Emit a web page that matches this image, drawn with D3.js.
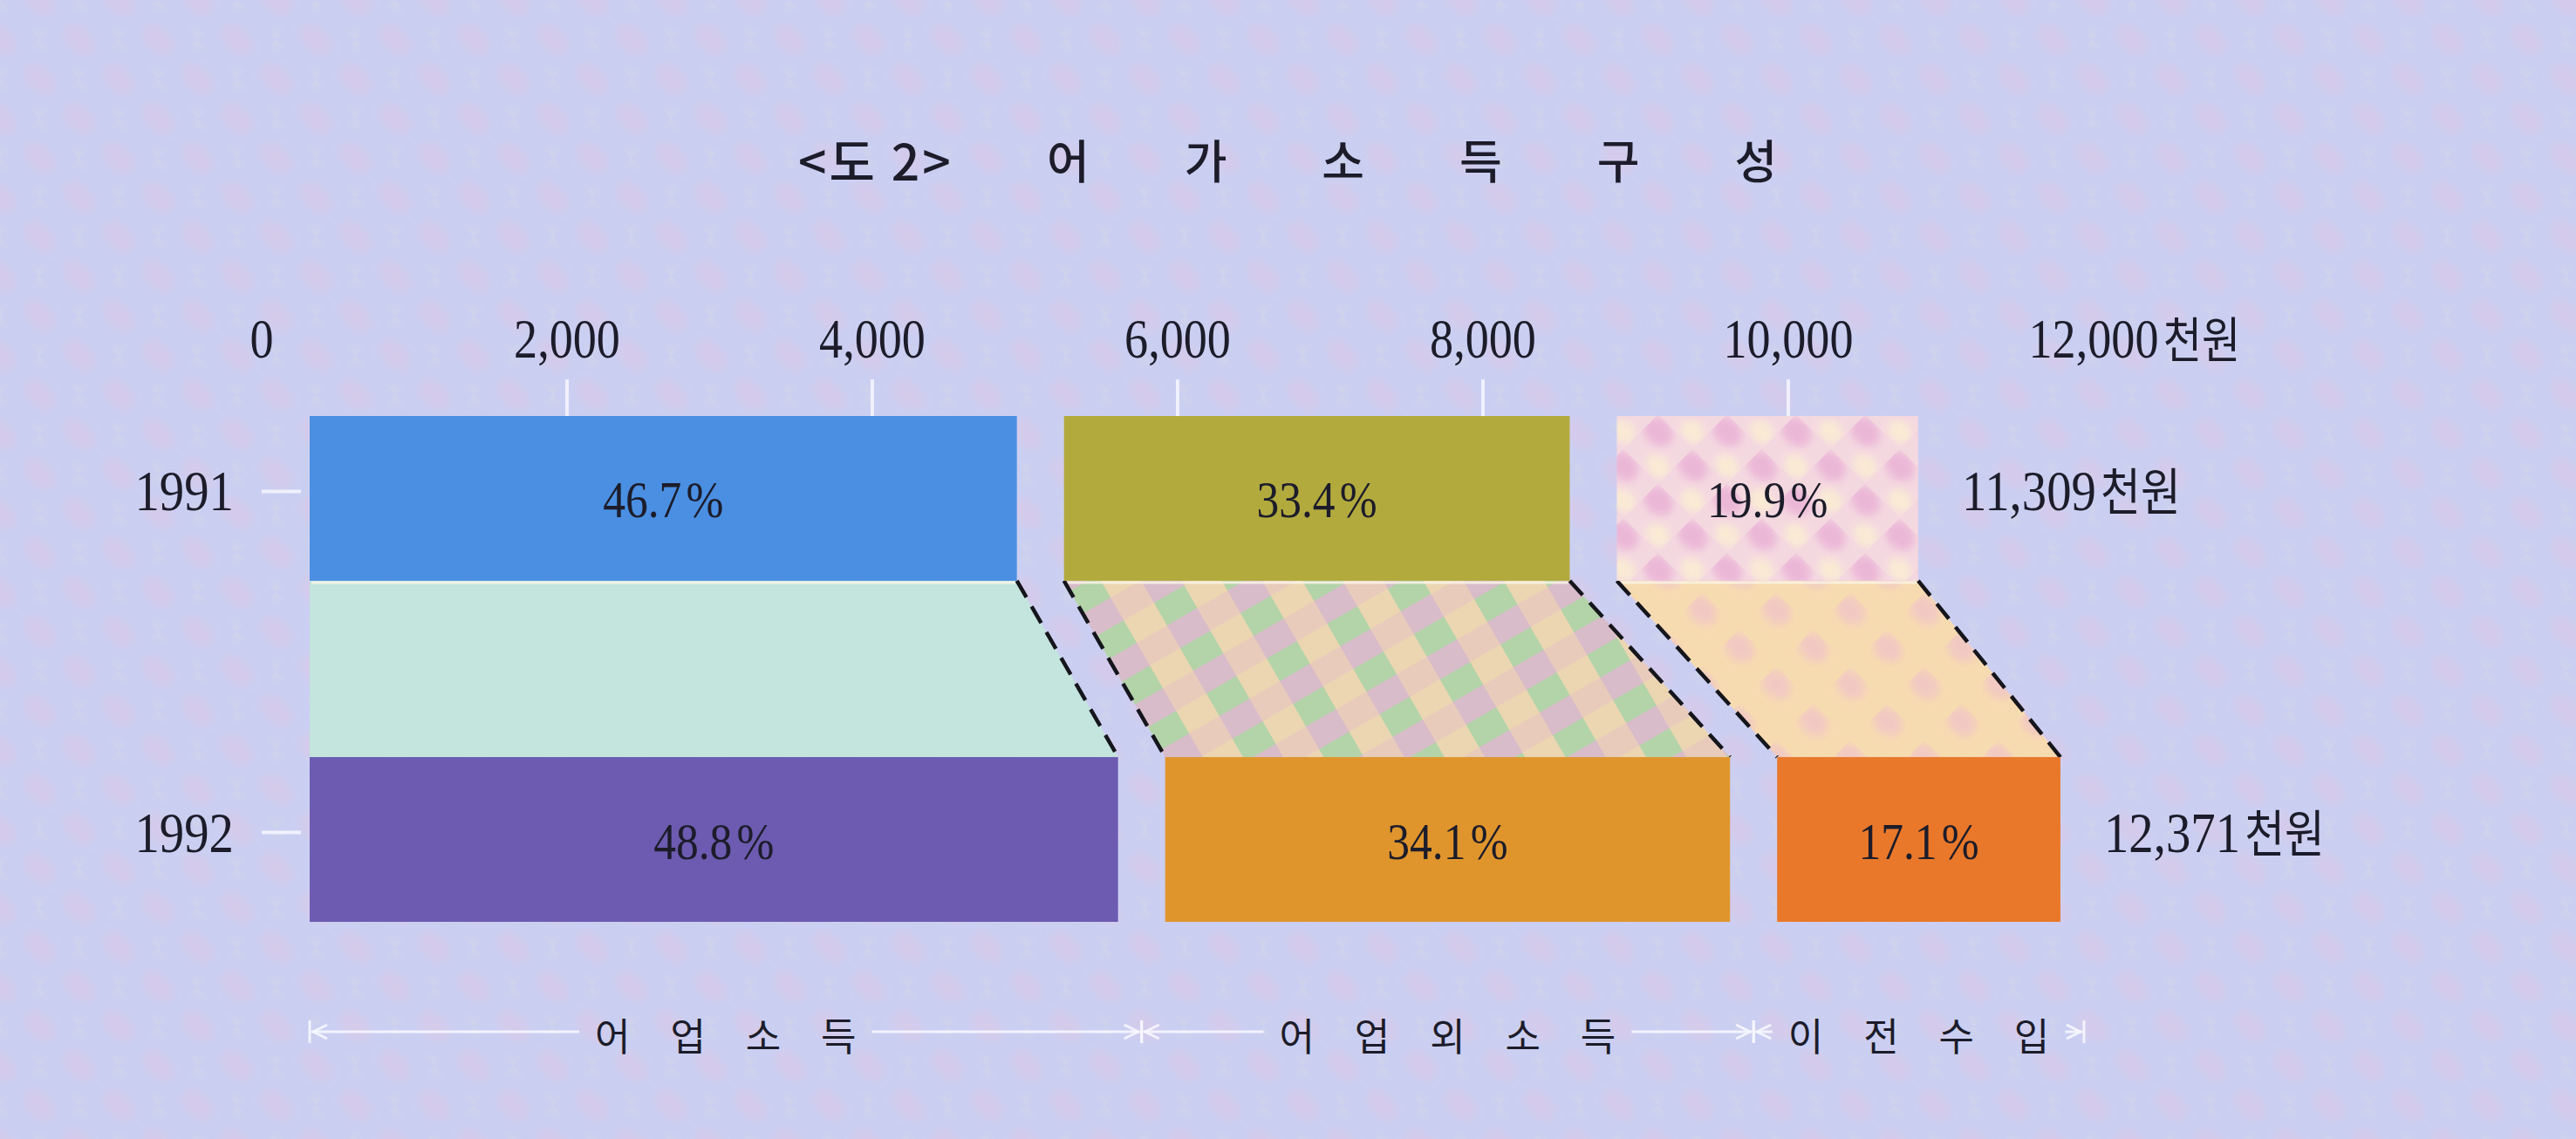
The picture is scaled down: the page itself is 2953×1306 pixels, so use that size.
<!DOCTYPE html>
<html>
<head>
<meta charset="utf-8">
<script src="https://cdn.jsdelivr.net/npm/d3@7"></script>
<style>
  html, body { margin: 0; padding: 0; background: #cdd1f3; overflow: hidden; }
  svg { display: block; }
</style>
</head>
<body>
<svg id="chart" width="2953" height="1306"></svg>
<script>
// ---------------- data ----------------
const years = ["1991", "1992"];
const totals = [11309, 12371];                       // 천원
const categories = ["어업소득", "어업외소득", "이전수입"];
const categoryLabels = ["어 업 소 득", "어 업 외 소 득", "이 전 수 입"];
const shares1991 = [46.7, 33.4, 19.9];               // %
const shares1992 = [48.8, 34.1, 17.1];               // %
const tickValues = [0, 2000, 4000, 6000, 8000, 10000, 12000];
const tickLabels = ["0", "2,000", "4,000", "6,000", "8,000", "10,000", "12,000"];
const axisUnit = "천원";
const totalLabels = ["11,309천원", "12,371천원"];
const titleHead = "<도 2>";
const titleWords = ["어", "가", "소", "득", "구", "성"];

// ---------------- style ----------------
const W = 2953, H = 1306;
const serif = "'Liberation Serif', 'Noto Sans CJK KR', serif";
const sans = "'Noto Sans CJK KR', 'Noto Sans', sans-serif";
const ink = "#1c1c2a";
const fill1991 = ["#4a8fe2", "#b3aa3e", "url(#pinkCheck)"];
const fill1992 = ["#6c5bb0", "#e0952c", "#e9782a"];
const bandFill = ["#c4e4de", "url(#plaid)", "url(#peach)"];
const segGap = 54;
const squeeze = 0.86;

const svg = d3.select("#chart");

// ---------------- patterns ----------------
const defs = svg.append("defs");
const blur = defs.append("filter").attr("id", "soft").attr("x", "-50%").attr("y", "-50%").attr("width", "200%").attr("height", "200%");
blur.append("feGaussianBlur").attr("stdDeviation", 5);

const bg = defs.append("pattern").attr("id", "bgPat").attr("patternUnits", "userSpaceOnUse")
  .attr("width", 64).attr("height", 64).attr("patternTransform", "rotate(45)");
bg.append("rect").attr("width", 64).attr("height", 64).attr("fill", "#cacff2");
bg.append("ellipse").attr("cx", 32).attr("cy", 32).attr("rx", 22).attr("ry", 14).attr("fill", "#dcc8e6").attr("opacity", 0.55).attr("filter", "url(#soft)");
bg.append("ellipse").attr("cx", 0).attr("cy", 0).attr("rx", 12).attr("ry", 9).attr("fill", "#d8d8de").attr("opacity", 0.4).attr("filter", "url(#soft)");
bg.append("ellipse").attr("cx", 64).attr("cy", 64).attr("rx", 12).attr("ry", 9).attr("fill", "#d8d8de").attr("opacity", 0.4).attr("filter", "url(#soft)");

const pk = defs.append("pattern").attr("id", "pinkCheck").attr("patternUnits", "userSpaceOnUse")
  .attr("width", 56).attr("height", 56).attr("patternTransform", "rotate(45)");
pk.append("rect").attr("width", 56).attr("height", 56).attr("fill", "#f4d8e0");
pk.append("ellipse").attr("cx", 14).attr("cy", 14).attr("rx", 19).attr("ry", 15).attr("fill", "#e8acd4").attr("opacity", 0.75).attr("filter", "url(#soft)");
pk.append("ellipse").attr("cx", 42).attr("cy", 42).attr("rx", 15).attr("ry", 12).attr("fill", "#fbeed2").attr("opacity", 0.85).attr("filter", "url(#soft)");

const pl = defs.append("pattern").attr("id", "plaid").attr("patternUnits", "userSpaceOnUse")
  .attr("width", 80).attr("height", 60).attr("patternTransform", "rotate(-30)");
pl.append("rect").attr("width", 80).attr("height", 60).attr("fill", "#ecd6b2");
pl.append("rect").attr("width", 40).attr("height", 30).attr("fill", "#b3d3a8");
pl.append("rect").attr("y", 30).attr("width", 40).attr("height", 30).attr("fill", "#d8bcca");
pl.append("rect").attr("x", 40).attr("y", 30).attr("width", 40).attr("height", 30).attr("fill", "#e8c6c0").attr("opacity", 0.7);

const pc = defs.append("pattern").attr("id", "peach").attr("patternUnits", "userSpaceOnUse")
  .attr("width", 60).attr("height", 60).attr("patternTransform", "rotate(45)");
pc.append("rect").attr("width", 60).attr("height", 60).attr("fill", "#f7dbb0");
pc.append("ellipse").attr("cx", 15).attr("cy", 15).attr("rx", 19).attr("ry", 15).attr("fill", "#efc0cc").attr("opacity", 0.65).attr("filter", "url(#soft)");

svg.append("rect").attr("width", W).attr("height", H).attr("fill", "url(#bgPat)");

// ---------------- scales ----------------
const xAxis = d3.scaleLinear().domain([0, 12000]).range([300, 2400]);
const xBar = d3.scaleLinear().domain([0, 12000]).range([355, 2197]);
const y = d3.scaleBand().domain(years).range([477, 1057]).paddingInner(0.517).paddingOuter(0);

function segments(yi) {
  const shares = yi === 0 ? shares1991 : shares1992;
  let cum = 0;
  return shares.map((s, ci) => {
    const v = totals[yi] * s / 100;
    const d = { year: years[yi], yi, ci, share: s, start: cum, end: cum + v };
    cum += v;
    d.x0 = xBar(d.start) + ci * segGap;
    d.x1 = xBar(d.end) + ci * segGap;
    return d;
  });
}
const segs = [segments(0), segments(1)];

// ---------------- title ----------------
const title = svg.append("text").attr("y", 182).attr("dominant-baseline", "central")
  .attr("font-family", sans).attr("font-size", 53).attr("font-weight", 500).attr("fill", ink);
title.append("tspan").attr("x", 915).attr("font-size", 57).attr("letter-spacing", 3).text(titleHead + " ");
title.append("tspan").attr("x", 1200).attr("word-spacing", 97).text(titleWords.join(" "));

// ---------------- top axis ----------------
const axisG = svg.append("g");
axisG.selectAll("line.tick").data(tickValues.filter(v => v > 0 && v < 12000)).join("line")
  .attr("x1", d => xAxis(d)).attr("x2", d => xAxis(d))
  .attr("y1", 435).attr("y2", y("1991"))
  .attr("stroke", "#f7f7ff").attr("stroke-width", 4).attr("opacity", 0.85);

tickValues.forEach((v, i) => {
  const g = axisG.append("g").attr("transform", `translate(${xAxis(v)},410) scale(${squeeze},1)`);
  const t = g.append("text").attr("font-family", serif).attr("font-size", 63).attr("fill", ink);
  const num = t.append("tspan").text(tickLabels[i]);
  if (i === tickValues.length - 1) t.append("tspan").attr("dx", 6).attr("font-size", 56).text(axisUnit);
  const len = num.node().getComputedTextLength();
  t.attr("x", -len / 2);
});

// ---------------- bands between years ----------------
const top0 = y("1991") + y.bandwidth();
const bot1 = y("1992");
const bandData = segs[0].map((a, ci) => ({ a, b: segs[1][ci], ci }));

svg.append("g").selectAll("path").data(bandData).join("path")
  .attr("d", d => `M${d.a.x0},${top0}L${d.a.x1},${top0}L${d.b.x1},${bot1}L${d.b.x0},${bot1}Z`)
  .attr("fill", d => bandFill[d.ci]);

svg.append("g").selectAll("line").data(bandData).join("line")
  .attr("x1", d => d.a.x0 + 2).attr("x2", d => d.a.x1 - 2)
  .attr("y1", top0 + 2).attr("y2", top0 + 2)
  .attr("stroke", "#fbf6e8").attr("stroke-width", 3).attr("opacity", 0.8);

const dashData = [];
bandData.forEach(d => {
  if (d.ci > 0) dashData.push({ xa: d.a.x0, xb: d.b.x0 });
  dashData.push({ xa: d.a.x1, xb: d.b.x1 });
});
svg.append("g").selectAll("line").data(dashData).join("line")
  .attr("x1", d => d.xa).attr("y1", top0).attr("x2", d => d.xb).attr("y2", bot1)
  .attr("stroke", "#15151c").attr("stroke-width", 4.5).attr("stroke-dasharray", "22 12");

// ---------------- bars ----------------
const barG = svg.append("g");
segs.forEach((row, yi) => {
  const fills = yi === 0 ? fill1991 : fill1992;
  barG.selectAll(null).data(row).join("rect")
    .attr("x", d => d.x0).attr("width", d => d.x1 - d.x0)
    .attr("y", y(years[yi])).attr("height", y.bandwidth())
    .attr("fill", d => fills[d.ci]);

  row.forEach(d => {
    const cy = y(years[yi]) + y.bandwidth() / 2;
    const g = barG.append("g").attr("transform", `translate(${(d.x0 + d.x1) / 2},${cy + 22}) scale(${squeeze},1)`);
    const t = g.append("text").attr("font-family", serif).attr("font-size", 60).attr("fill", ink)
      .attr("text-anchor", "middle");
    t.append("tspan").text(d3.format(".1f")(d.share));
    t.append("tspan").attr("dx", 6).text("%");
  });

  const cy = y(years[yi]) + y.bandwidth() / 2;
  const gy = barG.append("g").attr("transform", `translate(268,${cy + 14}) scale(${squeeze},1)`);
  gy.append("text").attr("font-family", serif).attr("font-size", 66).attr("fill", ink)
    .attr("text-anchor", "end").text(years[yi]);
  barG.append("line").attr("x1", 300).attr("x2", 345).attr("y1", cy - 8).attr("y2", cy - 8)
    .attr("stroke", "#f7f7ff").attr("stroke-width", 4).attr("opacity", 0.85);

  const last = row[row.length - 1];
  const gt = barG.append("g").attr("transform", `translate(${last.x1 + 50},${cy + 14}) scale(${squeeze},1)`);
  const tt = gt.append("text").attr("font-family", serif).attr("font-size", 66).attr("fill", ink);
  const m = totalLabels[yi].match(/^([\d,]+)(.*)$/);
  tt.append("tspan").text(m[1]);
  tt.append("tspan").attr("dx", 6).attr("font-size", 58).text(m[2]);
});

// ---------------- bottom category brackets ----------------
const yb = 1183;
const brG = svg.append("g");
const lineCol = "#f7f7ff";
segs[1].forEach((d, ci) => {
  const left = ci === 0 ? d.x0 : d.x0 - segGap / 2;
  const right = d.x1 + segGap / 2;
  const mid = (left + right) / 2;
  const t = brG.append("text").attr("x", mid).attr("y", yb + 3).attr("dominant-baseline", "central")
    .attr("text-anchor", "middle").attr("font-family", sans).attr("font-size", 44).attr("font-weight", 400)
    .attr("fill", ink).attr("word-spacing", 36).text(categoryLabels[ci]);
  const bb = t.node().getBBox();
  const pad = 18;
  [[left + 2, bb.x - pad], [bb.x + bb.width + pad, right - 2]].forEach(([a, b]) => {
    brG.append("line").attr("x1", a).attr("x2", b).attr("y1", yb).attr("y2", yb)
      .attr("stroke", lineCol).attr("stroke-width", 3).attr("opacity", 0.9);
  });
  brG.append("path").attr("d", `M${left + 20},${yb - 8}L${left + 4},${yb}L${left + 20},${yb + 8}`)
    .attr("fill", "none").attr("stroke", lineCol).attr("stroke-width", 3).attr("opacity", 0.9);
  brG.append("path").attr("d", `M${right - 20},${yb - 8}L${right - 4},${yb}L${right - 20},${yb + 8}`)
    .attr("fill", "none").attr("stroke", lineCol).attr("stroke-width", 3).attr("opacity", 0.9);
  [left, right].forEach(xs => {
    brG.append("line").attr("x1", xs).attr("x2", xs).attr("y1", yb - 13).attr("y2", yb + 13)
      .attr("stroke", lineCol).attr("stroke-width", 3).attr("opacity", 0.9);
  });
});
</script>
</body>
</html>
